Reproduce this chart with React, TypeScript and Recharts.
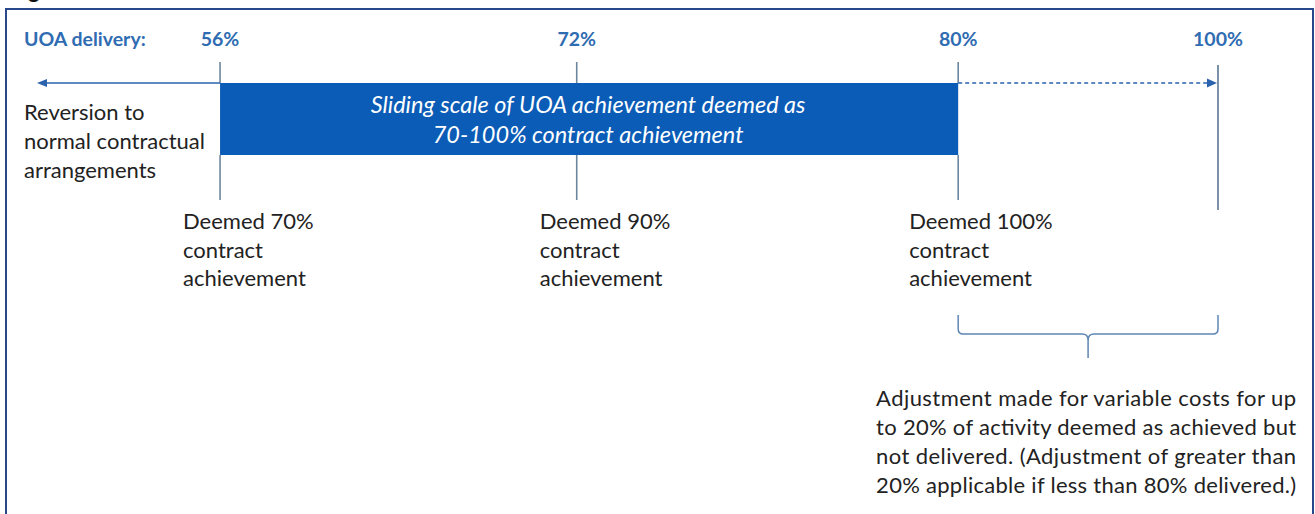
import React from 'react';
import { ComposedChart, XAxis, YAxis, ReferenceLine, ReferenceArea } from 'recharts';

// ---------------- data ----------------
const uoaDelivery = [56, 72, 80, 100];
const tickLabels = ['56%', '72%', '80%', '100%'];
const deemedAchievement = [70, 90, 100];
const deemedLabels = ['Deemed 70%', 'Deemed 90%', 'Deemed 100%'];
const deemedSubLines = ['contract', 'achievement'];
const slidingScaleText = ['Sliding scale of UOA achievement deemed as', '70-100% contract achievement'];
const reversionText = ['Reversion to', 'normal contractual', 'arrangements'];
const adjustmentText = [
  'Adjustment made for variable costs for up',
  'to 20% of activity deemed as achieved but',
  'not delivered. (Adjustment of greater than',
  '20% applicable if less than 80% delivered.)',
];
const axisTitle = 'UOA delivery:';
const figureTitle = 'Figure 3';
const reversionBelow = 50; // values below the 56% floor revert to normal arrangements

// ---------------- styles / layout ----------------
const FONT = 'Lato, "Open Sans", "Noto Sans", sans-serif';
const BLUE_LABEL = '#2f6cb2';
const BAR_BLUE = '#0b5cb6';
const ARROW_BLUE = '#2a62ae';
const TICK_GREY = '#6c869f';
const BRACE_BLUE = '#5f86b2';
const TEXT = '#222222';
const W = 1315;
const H = 514;

// the reference diagram is schematic (not to scale): stops -> relative position along the axis
const SCHEMATIC_STOPS = [50, 56, 72, 80, 100];
const SCHEMATIC_POS = [0, 0.155, 0.457, 0.78, 1];

function schematicScale(): any {
  let dom: number[] = [SCHEMATIC_STOPS[0], SCHEMATIC_STOPS[SCHEMATIC_STOPS.length - 1]];
  let rng: number[] = [0, 1];
  const warp = (v: number) => {
    const k = SCHEMATIC_STOPS;
    const p = SCHEMATIC_POS;
    let i = 0;
    if (v <= k[0]) i = 0;
    else if (v >= k[k.length - 1]) i = k.length - 2;
    else {
      while (i < k.length - 2 && v > k[i + 1]) i++;
    }
    const t = (v - k[i]) / (k[i + 1] - k[i]);
    return p[i] + t * (p[i + 1] - p[i]);
  };
  const s: any = (v: any) => {
    const n = Number(v);
    const u0 = warp(Number(dom[0]));
    const u1 = warp(Number(dom[dom.length - 1]));
    const t = (warp(n) - u0) / (u1 - u0);
    return rng[0] + t * (rng[rng.length - 1] - rng[0]);
  };
  s.domain = (d?: number[]) => {
    if (d === undefined) return dom.slice();
    dom = d.slice();
    return s;
  };
  s.range = (r?: number[]) => {
    if (r === undefined) return rng.slice();
    rng = r.slice();
    return s;
  };
  s.copy = () => {
    const c = schematicScale();
    c.domain(dom);
    c.range(rng);
    return c;
  };
  s.ticks = () => SCHEMATIC_STOPS.slice(1);
  s.tickFormat = () => (v: number) => String(v);
  return s;
}

// vertical layout rows (px from top of the picture)
const ROW = {
  tickTop: 62,
  tickTop100: 65,
  barTop: 83,
  barBottom: 155,
  tickBottom: 200,
  tickBottom100: 210,
  braceTop: 315,
  braceMid: 334,
  braceTip: 358,
};

const bodyText = { fontFamily: FONT, fontSize: 22, fill: TEXT };

const milestones = uoaDelivery.map((v, i) => ({ uoa: v, label: tickLabels[i] }));

const AxisTick = (props: any) => {
  const { x, y, payload } = props;
  const idx = uoaDelivery.indexOf(payload.value);
  return (
    <text x={x} y={y} textAnchor="middle" fontFamily={FONT} fontWeight={700} fontSize={19.5} fill={BLUE_LABEL}>
      {idx >= 0 ? tickLabels[idx] : `${payload.value}%`}
    </text>
  );
};

const AxisTitle = (props: any) => {
  const vb = props.viewBox || {};
  return (
    <text x={(vb.x ?? 37) - 13} y={46} fontFamily={FONT} fontWeight={700} fontSize={19.5} fill={BLUE_LABEL}>
      {axisTitle}
    </text>
  );
};

const makeDeemedLabel = (i: number) => (props: any) => {
  const vb = props.viewBox || {};
  const x = vb.x - (i === 2 ? 49 : 37);
  const y0 = vb.y + (vb.height || 0);
  const lines = [deemedLabels[i], ...deemedSubLines];
  return (
    <g>
      {lines.map((t, k) => (
        <text key={k} x={x} y={y0 + 29 + k * 28.5} {...bodyText}>
          {t}
        </text>
      ))}
    </g>
  );
};

const BarLabel = (props: any) => {
  const vb = props.viewBox || {};
  const cx = vb.x + vb.width / 2;
  return (
    <g>
      {slidingScaleText.map((t, k) => (
        <text key={k} x={cx - 1} y={vb.y + 30 + k * 29.5} textAnchor="middle" fontFamily={FONT} fontStyle="italic" fontSize={23.5} fill="#ffffff">
          {t}
        </text>
      ))}
    </g>
  );
};

const ReversionLabel = (props: any) => {
  const vb = props.viewBox || {};
  return (
    <g>
      {reversionText.map((t, k) => (
        <text key={k} x={vb.x - 13} y={vb.y + 37 + k * 29} {...bodyText}>
          {t}
        </text>
      ))}
    </g>
  );
};

const AdjustmentLabel = (props: any) => {
  const vb = props.viewBox || {};
  const cx = vb.x + vb.width / 2;
  return (
    <g>
      {adjustmentText.map((t, k) => (
        <text key={k} x={cx - 2} y={vb.y + 72 + k * 29} textAnchor="middle" textLength={420} lengthAdjust="spacing" {...bodyText}>
          {t}
        </text>
      ))}
    </g>
  );
};

const LeftArrow = (props: any) => {
  const { x1, y1, x2, y2 } = props;
  const left = Math.min(x1, x2);
  const right = Math.max(x1, x2);
  const y = y1 ?? y2;
  return (
    <g>
      <line x1={left + 6} y1={y} x2={right} y2={y} stroke={ARROW_BLUE} strokeWidth={1.5} />
      <polygon points={`${left},${y} ${left + 10},${y - 4} ${left + 10},${y + 4}`} fill={ARROW_BLUE} />
    </g>
  );
};

const DashedArrow = (props: any) => {
  const { x1, y1, x2 } = props;
  const left = Math.min(x1, x2);
  const right = Math.max(x1, x2);
  const y = y1;
  return (
    <g>
      <line x1={left} y1={y} x2={right - 8} y2={y} stroke={ARROW_BLUE} strokeWidth={1.3} strokeDasharray="4 3" />
      <polygon points={`${right - 1},${y} ${right - 11},${y - 4.5} ${right - 11},${y + 4.5}`} fill={ARROW_BLUE} />
    </g>
  );
};

const Brace = (props: any) => {
  const { x1, x2, y1 } = props;
  const l = Math.min(x1, x2);
  const r = Math.max(x1, x2);
  const m = (l + r) / 2;
  const top = ROW.braceTop - ROW.braceMid + y1;
  const tip = ROW.braceTip - ROW.braceMid + y1;
  const y = y1;
  const d = `M${l},${top} L${l},${y - 5} Q${l},${y} ${l + 5},${y} L${m - 6},${y} Q${m},${y} ${m},${y + 6} L${m},${tip} M${m},${y + 6} Q${m},${y} ${m + 6},${y} L${r - 5},${y} Q${r},${y} ${r},${y - 5} L${r},${top}`;
  return <path d={d} fill="none" stroke={BRACE_BLUE} strokeWidth={1.5} />;
};

export default function App() {
  const [p56, p72, p80, p100] = uoaDelivery;
  return (
    <div style={{ position: 'absolute', left: 0, top: 0, width: W, height: H, overflow: 'hidden', background: '#ffffff' }}>
      <svg width={W} height={20} style={{ position: 'absolute', left: 0, top: 0 }}>
        <text x={10} y={-2} fontFamily={FONT} fontWeight={700} fontSize={22} fill="#111">
          {figureTitle}
        </text>
      </svg>
      <div
        style={{
          position: 'absolute',
          left: 5,
          top: 8,
          width: 1309,
          height: 600,
          border: '2px solid #27488a',
          boxSizing: 'border-box',
        }}
      />
      <div style={{ position: 'absolute', left: 0, top: 0 }}>
        <ComposedChart width={W} height={H} data={milestones} margin={{ top: 0, right: 97, bottom: 0, left: 37 }}>
          <XAxis
            dataKey="uoa"
            type="number"
            orientation="top"
            height={60}
            scale={schematicScale()}
            domain={[reversionBelow, p100]}
            allowDataOverflow
            ticks={uoaDelivery}
            interval={0}
            tickSize={0}
            tickMargin={14}
            tickLine={false}
            axisLine={false}
            tick={<AxisTick />}
            label={AxisTitle}
          />
          <YAxis type="number" hide reversed domain={[60, H]} allowDataOverflow />

          {/* milestone ticks above and below the bar */}
          {[p56, p72, p80].map((v) => (
            <ReferenceLine
              key={`top-${v}`}
              segment={[{ x: v, y: ROW.tickTop }, { x: v, y: ROW.barTop }]}
              stroke={TICK_GREY}
              strokeWidth={1.6}
            />
          ))}
          {[p56, p72, p80].map((v, i) => (
            <ReferenceLine
              key={`bot-${v}`}
              segment={[{ x: v, y: ROW.barBottom }, { x: v, y: ROW.tickBottom }]}
              stroke={TICK_GREY}
              strokeWidth={1.6}
              label={makeDeemedLabel(i)}
            />
          ))}
          <ReferenceLine
            segment={[{ x: p100, y: ROW.tickTop100 }, { x: p100, y: ROW.tickBottom100 }]}
            stroke={TICK_GREY}
            strokeWidth={1.8}
          />

          {/* sliding scale bar: 56% .. 80% UOA delivery => deemed 70..100% */}
          <ReferenceArea
            x1={p56}
            x2={p80}
            y1={ROW.barTop}
            y2={ROW.barBottom}
            fill={BAR_BLUE}
            fillOpacity={1}
            stroke="none"
            label={BarLabel}
          />

          {/* reversion arrow to the left of 56% */}
          <ReferenceLine
            segment={[{ x: reversionBelow, y: ROW.barTop }, { x: p56, y: ROW.barTop }]}
            shape={LeftArrow}
            label={ReversionLabel}
          />

          {/* dashed arrow 80% -> 100% */}
          <ReferenceLine segment={[{ x: p80, y: ROW.barTop }, { x: p100, y: ROW.barTop }]} shape={DashedArrow} />

          {/* brace under 80%..100% */}
          <ReferenceLine
            segment={[{ x: p80, y: ROW.braceMid }, { x: p100, y: ROW.braceMid }]}
            shape={Brace}
            label={AdjustmentLabel}
          />
        </ComposedChart>
      </div>
    </div>
  );
}
